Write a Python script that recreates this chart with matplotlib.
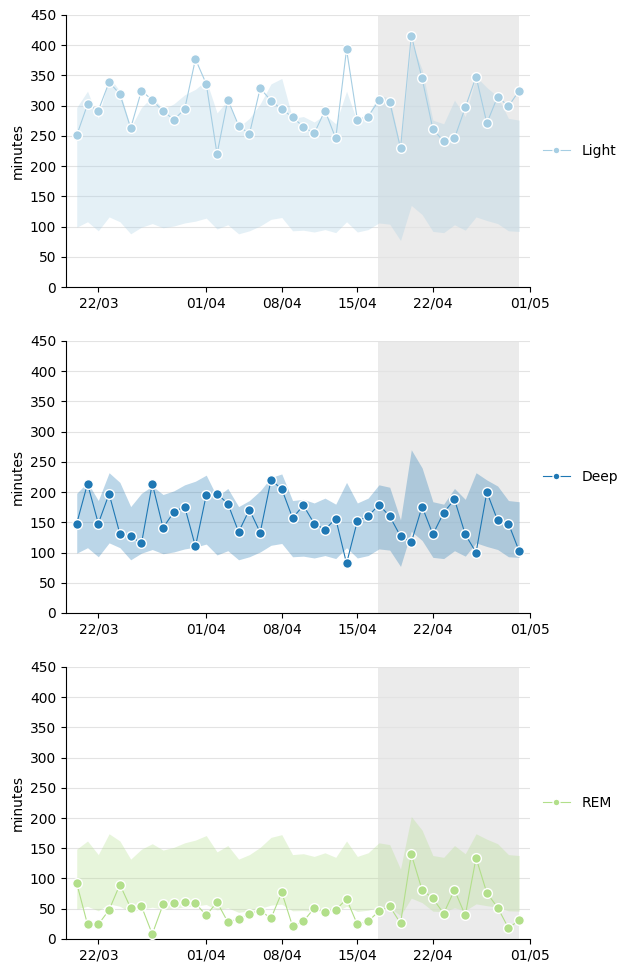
import matplotlib
matplotlib.use("Agg")
import matplotlib.pyplot as plt
import matplotlib.dates as mdates
import numpy as np
import pandas as pd

dates = pd.date_range("2024-03-20", "2024-04-30", freq="D")

light = [251, 302, 292, 339, 319, 263, 325, 309, 291, 277, 294, 377, 336, 220, 310, 267,
         253, 329, 308, 294, 281, 265, 254, 292, 246, 393, 277, 282, 309, 306, 230, 416,
         345, 261, 241, 246, 297, 348, 271, 315, 299, 325]
deep = [148, 214, 148, 197, 131, 127, 115, 214, 141, 167, 176, 110, 195, 197, 181, 134,
        171, 133, 220, 205, 157, 178, 148, 138, 156, 82, 152, 160, 179, 160, 127, 117,
        176, 130, 166, 188, 130, 100, 200, 153, 148, 102]
rem = [92, 24, 24, 48, 90, 51, 54, 8, 57, 59, 61, 59, 39, 61, 28, 33,
       42, 47, 34, 77, 21, 29, 51, 44, 48, 66, 24, 29, 46, 54, 26, 140,
       81, 67, 42, 81, 39, 134, 76, 52, 18, 31]

# reference bands
light_low = [99, 108, 93, 116, 108, 88, 99, 105, 98, 101, 106, 109, 114, 96, 103, 88,
             93, 101, 112, 115, 93, 94, 91, 95, 90, 108, 91, 95, 106, 104, 77, 135,
             120, 92, 90, 103, 94, 116, 110, 105, 93, 92]
light_high = [297, 324, 279, 348, 324, 264, 297, 315, 294, 303, 318, 327, 342, 288, 309, 264,
              279, 303, 336, 345, 279, 282, 273, 285, 270, 324, 273, 285, 318, 312, 231, 405,
              360, 276, 270, 309, 282, 348, 330, 315, 279, 276]
deep_low = [99, 108, 93, 116, 108, 88, 99, 105, 98, 101, 106, 109, 114, 96, 103, 88,
            93, 101, 112, 115, 93, 94, 91, 95, 90, 108, 91, 95, 106, 104, 77, 135,
            120, 92, 90, 103, 94, 116, 110, 105, 93, 92]
deep_high = [198, 216, 186, 232, 216, 176, 198, 210, 196, 202, 212, 218, 228, 192, 206, 176,
             186, 202, 224, 230, 186, 188, 182, 190, 180, 216, 182, 190, 212, 208, 154, 270,
             240, 184, 180, 206, 188, 232, 220, 210, 186, 184]
rem_low = [49.5, 54, 46.5, 58, 54, 44, 49.5, 52.5, 49, 50.5, 53, 54.5, 57, 48, 51.5, 44,
           46.5, 50.5, 56, 57.5, 46.5, 47, 45.5, 47.5, 45, 54, 45.5, 47.5, 53, 52, 38.5, 67.5,
           60, 46, 45, 51.5, 47, 58, 55, 52.5, 46.5, 46]
rem_high = [148.5, 162, 139.5, 174, 162, 132, 148.5, 157.5, 147, 151.5, 159, 163.5, 171, 144, 154.5, 132,
            139.5, 151.5, 168, 172.5, 139.5, 141, 136.5, 142.5, 135, 162, 136.5, 142.5, 159, 156, 115.5, 202.5,
            180, 138, 135, 154.5, 141, 174, 165, 157.5, 139.5, 138]

names = ["Light", "Deep", "REM"]
colors = ["#a6cee3", "#1f78b4", "#b2df8a"]
series = [light, deep, rem]
lows = [light_low, deep_low, rem_low]
highs = [light_high, deep_high, rem_high]

span_start = pd.Timestamp("2024-04-16 22:00")
span_end = pd.Timestamp("2024-04-30")

fig = plt.figure(figsize=(6.34, 9.73), dpi=100)
bottoms = [0.705, 0.370, 0.035]

for i in range(3):
    ax = fig.add_axes([0.104, bottoms[i], 0.732, 0.2796])
    ax.fill_between(dates, lows[i], highs[i], color=colors[i], alpha=0.3, linewidth=0)
    ax.plot(dates, series[i], color=colors[i], linewidth=0.8, marker="o", markersize=7,
            markeredgecolor="white", markeredgewidth=1, label=names[i], zorder=3)
    ax.axvspan(span_start, span_end, color="#d0d0d0", alpha=0.42, linewidth=0, zorder=0)
    ax.set_ylim(0, 450)
    ax.set_yticks(range(0, 451, 50))
    ax.set_xlim(pd.Timestamp("2024-03-19"), pd.Timestamp("2024-05-01"))
    ax.xaxis.set_major_locator(mdates.DayLocator(bymonthday=[1, 8, 15, 22]))
    ax.xaxis.set_major_formatter(mdates.DateFormatter("%d/%m"))
    ax.grid(True, axis="y", color="#e3e3e3", linewidth=0.8)
    ax.set_axisbelow(True)
    ax.spines["top"].set_visible(False)
    ax.spines["right"].set_visible(False)
    ax.set_ylabel("minutes")
    leg = ax.legend(loc="center left", bbox_to_anchor=(1.0, 0.5), frameon=False,
                    markerscale=0.7)

plt.savefig("out.png", dpi=100)
